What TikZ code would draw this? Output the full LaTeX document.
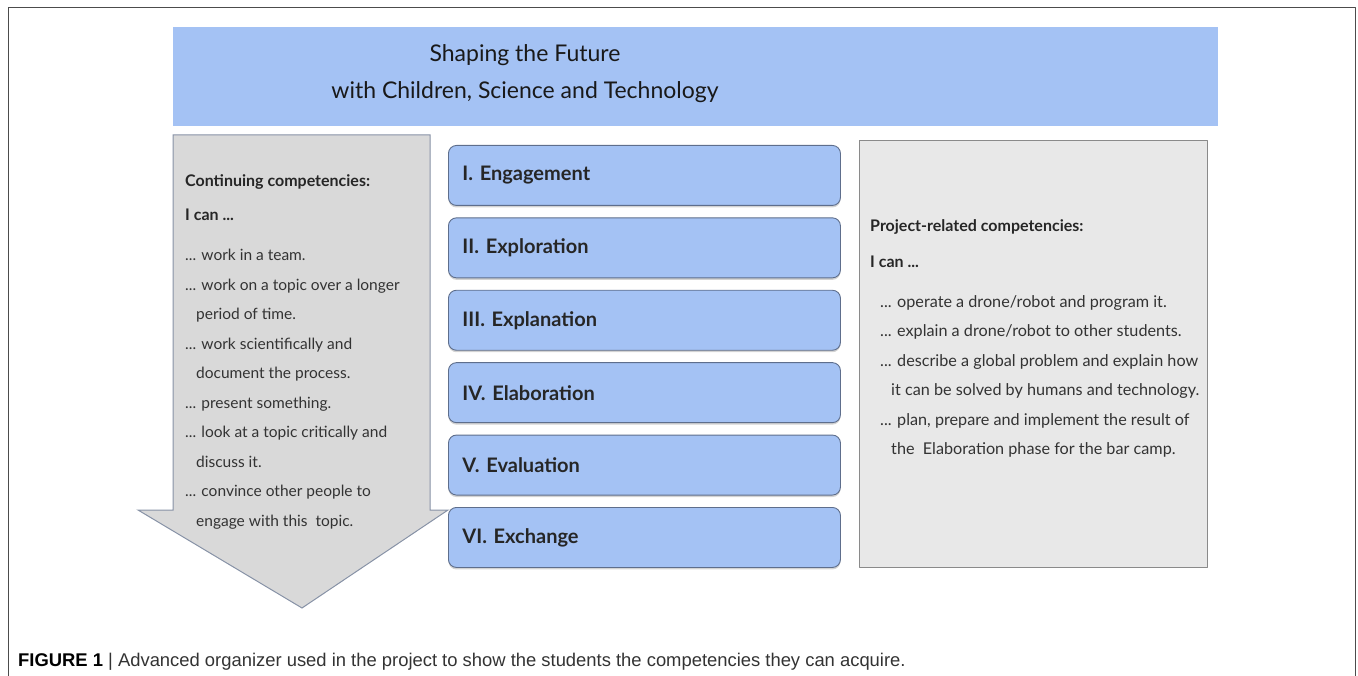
\documentclass[tikz,border=0pt]{standalone}
\usepackage{fontspec}
\setmainfont{Lato}
\newfontfamily\capfont{Liberation Sans}
\usetikzlibrary{shadows,positioning}
\definecolor{bannerblue}{HTML}{A4C2F4}
\definecolor{phaseedge}{HTML}{5E6E8C}
\definecolor{arrowfill}{HTML}{D9D9D9}
\definecolor{arrowedge}{HTML}{8792A6}
\definecolor{panelfill}{HTML}{E8E8E8}
\definecolor{paneledge}{HTML}{8A8A8A}
\definecolor{textgray}{HTML}{333333}

\begin{document}
\begin{tikzpicture}[x=1pt,y=-1pt,line cap=round,line join=round,
    phase/.style={draw=phaseedge,fill=bannerblue,rounded corners=8pt,line width=0.9pt,
        minimum height=60pt,text width=364pt,inner xsep=14pt,align=left,anchor=north west,
        font=\fontsize{20}{24}\selectfont\bfseries,text=black!85,
        drop shadow={opacity=0.35,shadow xshift=0pt,shadow yshift=-2pt}},
    listtext/.style={anchor=north west,align=left,text=textgray,inner sep=0pt,
        font=\fontsize{15.5}{29.5}\selectfont}]
\useasboundingbox (0,0) rectangle (1358,676);
% frame round the figure
\draw[line width=1pt,black!70] (8,676) -- (8,8) -- (1355,8) -- (1355,676);
% banner
\fill[bannerblue] (173,27) rectangle (1218,126);
\node[align=center,font=\fontsize{23}{37}\selectfont,text=black!90] (title) at (525,74)
    {Shaping the Future\\with Children, Science and Technology};
% arrow on the left
\draw[fill=arrowfill,draw=arrowedge,line width=1pt,line cap=butt,line join=miter]
    (173,135) -- (430,135) -- (430,510) -- (448,510) -- (302,608) -- (138,510) -- (173,510) -- cycle;
\node[listtext,font=\fontsize{16}{34}\selectfont\bfseries,text=black!85] (conthead) at (185,174)
    {Continuing competencies:\\I can ...};
\node[listtext] (contlist) at (185,249)
    {... work in a team.\\
     ... work on a topic over a longer\\
     \hspace*{11pt}period of time.\\
     ... work scientifically and\\
     \hspace*{11pt}document the process.\\
     ... present something.\\
     ... look at a topic critically and\\
     \hspace*{11pt}discuss it.\\
     ... convince other people to\\
     \hspace*{11pt}engage with this\ \ topic.};
% panel on the right
\draw[fill=panelfill,draw=paneledge,line width=1pt] (859,141) rectangle (1207,567);
\node[listtext,font=\fontsize{16}{36}\selectfont\bfseries,text=black!85] (projhead) at (870,219)
    {Project-related competencies:\\I can ...};
\node[listtext,font=\fontsize{16.2}{29.5}\selectfont] (projlist) at (880,295)
    {... operate a drone/robot and program it.\\
     ... explain a drone/robot to other students.\\
     ... describe a global problem and explain how\\
     \hspace*{11pt}it can be solved by humans and technology.\\
     ... plan, prepare and implement the result of\\
     \hspace*{11pt}the\ \ Elaboration phase for the bar camp.};
% the six phases
\foreach \nm/\txt [count=\i] in {eng/I. Engagement,expl/II. Exploration,expn/III. Explanation,
        elab/IV. Elaboration,eval/V. Evaluation,exch/VI. Exchange}
    \node[phase] (\nm) at (448,{145+72.4*(\i-1)}) {\txt};
% caption
\node[anchor=base west,inner sep=0pt,text=textgray,font=\capfont\fontsize{18.4}{21}\selectfont] (caption) at (18,666)
    {\textcolor{black}{\textbf{FIGURE 1}} | Advanced organizer used in the project to show the students the competencies they can acquire.};
\end{tikzpicture}
\end{document}
